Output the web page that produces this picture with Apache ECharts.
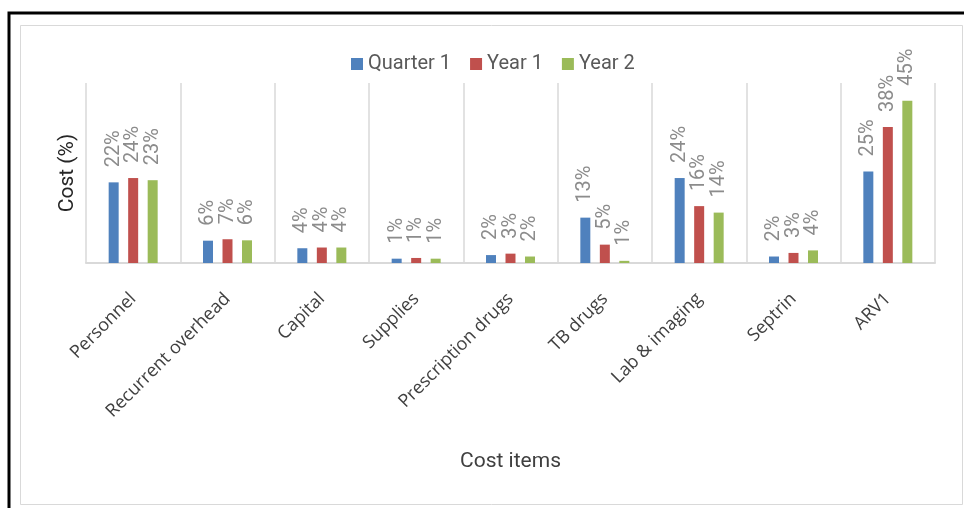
<!DOCTYPE html>
<html>
<head>
<meta charset="utf-8">
<script src="https://cdn.jsdelivr.net/npm/echarts@6/dist/echarts.min.js"></script>
<style>
html,body{margin:0;padding:0;background:#fff;}
#main{width:964px;height:508px;}
</style>
</head>
<body>
<div id="main"></div>
<script>
var categories = ["Personnel", "Recurrent overhead", "Capital", "Supplies", "Prescription drugs", "TB drugs", "Lab & imaging", "Septrin", "ARV1"];
var quarter1 = [22.4, 6.2, 4.1, 1.2, 2.2, 12.6, 23.6, 1.8, 25.4];
var year1 = [23.6, 6.6, 4.3, 1.4, 2.6, 5.1, 15.8, 2.8, 37.8];
var year2 = [23.0, 6.3, 4.3, 1.2, 1.8, 0.6, 14.0, 3.5, 45.1];
var seriesNames = ["Quarter 1", "Year 1", "Year 2"];
var colors = ["#4f81bd", "#c0504d", "#9bbb59"];

var FONT = "'Liberation Sans Narrow', 'Roboto', 'Liberation Sans', sans-serif";
var chart = echarts.init(document.getElementById('main'));

function mkSeries(name, data, color) {
  return {
    name: name,
    type: 'bar',
    data: data,
    barWidth: 10,
    barGap: '95%',
    itemStyle: { color: color },
    label: {
      show: true,
      position: 'top',
      distance: 15,
      rotate: 90,
      align: 'left',
      verticalAlign: 'middle',
      color: '#8c8c8c',
      fontFamily: FONT,
      fontSize: 20,
      formatter: function (p) { return Math.round(p.value) + '%'; }
    }
  };
}

chart.setOption({
  animation: false,
  backgroundColor: '#fff',
  graphic: [
    { type: 'rect', shape: { x: 9, y: 13, width: 1000, height: 600 }, style: { fill: null, stroke: '#000', lineWidth: 3 } },
    { type: 'rect', shape: { x: 20.5, y: 25.5, width: 942, height: 479 }, style: { fill: null, stroke: '#d9d9d9', lineWidth: 1 } }
  ],
  legend: {
    left: 346,
    top: 49,
    itemWidth: 12,
    itemHeight: 12,
    itemGap: 19,
    icon: 'rect',
    textStyle: { color: '#595959', fontSize: 20, fontFamily: FONT, padding: [0, 0, 0, 0] },
    data: seriesNames
  },
  grid: { left: 86, right: 29, top: 83, bottom: 245, containLabel: false },
  xAxis: {
    type: 'category',
    data: categories,
    name: 'Cost items',
    nameLocation: 'middle',
    nameGap: 188,
    nameTextStyle: { color: '#404040', fontSize: 21, fontFamily: FONT },
    axisLine: { lineStyle: { color: '#d9d9d9', width: 2 } },
    axisTick: { show: false },
    splitLine: { show: true, lineStyle: { color: '#d9d9d9', width: 1.5 } },
    axisLabel: {
      interval: 0,
      rotate: 45,
      margin: 33,
      color: '#404040',
      fontSize: 18,
      fontFamily: "'Open Sans', 'Noto Sans', sans-serif"
    }
  },
  yAxis: {
    type: 'value',
    min: 0,
    max: 50,
    name: 'Cost (%)',
    nameLocation: 'middle',
    nameGap: 8,
    nameTextStyle: { color: '#262626', fontSize: 21, fontFamily: FONT },
    axisLine: { show: false },
    axisTick: { show: false },
    axisLabel: { show: false },
    splitLine: { show: false }
  },
  series: [
    mkSeries(seriesNames[0], quarter1, colors[0]),
    mkSeries(seriesNames[1], year1, colors[1]),
    mkSeries(seriesNames[2], year2, colors[2])
  ]
});
</script>
</body>
</html>
